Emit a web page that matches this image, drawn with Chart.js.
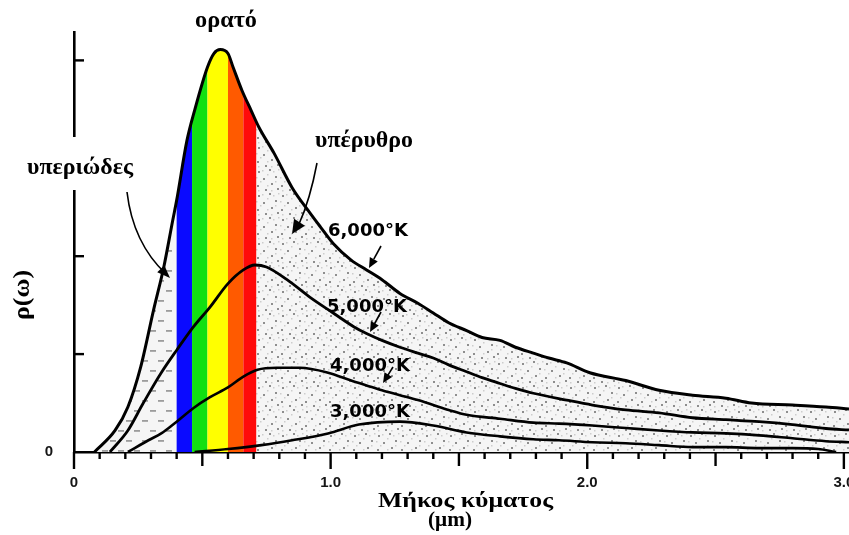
<!DOCTYPE html>
<html><head><meta charset="utf-8">
<script src="https://cdn.jsdelivr.net/npm/chart.js@4/dist/chart.umd.min.js"></script>
<style>html,body{margin:0;padding:0;background:#fff}canvas{display:block}</style>
</head><body>
<canvas id="c" width="849" height="535"></canvas>
<script>
// ---- data ----
const wl6000  = [0.08,0.16,0.21,0.26,0.31,0.35,0.385,0.40,0.44,0.47,0.52,0.545,0.57,0.60,0.62,0.655,0.69,0.72,0.78,0.85,0.92,0.96,1.01,1.08,1.14,1.20,1.27,1.34,1.40,1.46,1.53,1.59,1.66,1.72,1.79,1.85,1.92,2.01,2.15,2.28,2.41,2.54,2.64,2.80,2.93,3.02];
const rho6000 = [0,0.22,0.46,0.87,1.45,1.89,2.37,2.57,3.18,3.49,3.93,4.07,4.11,4.07,3.93,3.69,3.49,3.32,3.05,2.70,2.44,2.30,2.13,1.96,1.86,1.76,1.62,1.52,1.42,1.32,1.24,1.17,1.14,1.07,1.01,0.96,0.91,0.81,0.73,0.63,0.58,0.55,0.50,0.48,0.46,0.44];
const wl5000  = [0.14,0.21,0.27,0.34,0.40,0.466,0.53,0.60,0.66,0.705,0.75,0.83,0.92,1.01,1.09,1.14,1.20,1.27,1.34,1.40,1.46,1.53,1.59,1.66,1.72,1.79,1.92,2.02,2.15,2.28,2.41,2.54,2.67,2.80,2.93,3.02];
const rho5000 = [0,0.22,0.50,0.81,1.04,1.28,1.48,1.72,1.86,1.91,1.89,1.76,1.58,1.42,1.28,1.21,1.14,1.07,1.01,0.96,0.89,0.82,0.76,0.70,0.65,0.60,0.53,0.48,0.43,0.40,0.35,0.33,0.31,0.28,0.24,0.225];
const wl4000  = [0.21,0.29,0.34,0.40,0.466,0.53,0.60,0.66,0.715,0.79,0.88,0.99,1.08,1.14,1.20,1.27,1.34,1.40,1.46,1.53,1.66,1.79,1.89,2.02,2.15,2.28,2.41,2.54,2.67,2.80,2.93,3.02];
const rho4000 = [0,0.12,0.19,0.31,0.45,0.56,0.66,0.77,0.84,0.86,0.86,0.81,0.73,0.68,0.63,0.58,0.53,0.48,0.43,0.38,0.34,0.30,0.29,0.27,0.245,0.22,0.20,0.19,0.17,0.14,0.11,0.10];
const wl3000  = [0.47,0.60,0.73,0.85,0.99,1.11,1.27,1.40,1.53,1.66,1.79,1.89,2.02,2.15,2.28,2.41,2.54,2.67,2.80,2.90,2.97];
const rho3000 = [0,0.03,0.07,0.12,0.19,0.28,0.31,0.27,0.20,0.16,0.13,0.12,0.10,0.09,0.07,0.05,0.05,0.04,0.04,0.03,0];

const seriesLabels = ['6,000°K','5,000°K','4,000°K','3,000°K'];
const bandEdges  = [0.40,0.46,0.52,0.60,0.66,0.71];
const bandColors = ['#0a0aff','#12e012','#ffff00','#ff5a00','#ff0a0a'];
const xTickValues = [0,1,2,3];
const xTickLabels = ['0','1.0','2.0','3.0'];
const yTickValues = [0];
const yTickLabels = ['0'];
const yMarkValues = [1,2,3,4];
const xTitle = ['Μήκος κύματος','(μm)'];
const yTitle = 'ρ(ω)';
const regionLabels = ['ορατό','υπεριώδες','υπέρυθρο'];

const pts = (xs, ys) => xs.map((x, i) => ({x, y: ys[i]}));

// ---- fill texture (stipple + dashes + visible bands) ----
let patCache = null;
function fillPattern(chart){
  const ca = chart.chartArea;
  const key = ca.left+','+ca.right+','+ca.top+','+ca.bottom;
  if (patCache && patCache.key === key) return patCache.pat;
  const x = chart.scales.x;
  const c = document.createElement('canvas');
  c.width = chart.width; c.height = chart.height;
  const g = c.getContext('2d');
  g.fillStyle = '#f5f5f5'; g.fillRect(0,0,c.width,c.height);
  const uvEnd = x.getPixelForValue(bandEdges[0]);
  const irStart = x.getPixelForValue(bandEdges[bandEdges.length-1]);
  const darkDots = [[2,3],[13,1],[19,8],[7,10],[15,15],[1,17],[9,21],[21,20]];
  const lightDots = [[6,2],[17,3],[0,9],[11,6],[4,13],[19,13],[11,17],[15,22],[2,22],[22,1]];
  for (let ty = 0; ty < c.height; ty += 24){
    for (let tx = Math.floor(irStart); tx < c.width; tx += 24){
      g.fillStyle = '#8e8e8e';
      darkDots.forEach(([a,b]) => g.fillRect(tx+a, ty+b, 2, 2));
      g.fillStyle = '#cdcdcd';
      lightDots.forEach(([a,b]) => g.fillRect(tx+a, ty+b, 1.5, 1.5));
    }
  }
  // UV dashes
  g.fillStyle = '#9c9c9c';
  for (let ty = 0, r = 0; ty < c.height; ty += 10, r++){
    for (let tx = (r % 2 ? 6 : 14); tx < uvEnd - 4; tx += 16){
      g.fillRect(tx, ty, 6, 1.8);
    }
  }
  // visible bands
  for (let i = 0; i < bandColors.length; i++){
    const a = x.getPixelForValue(bandEdges[i]), b = x.getPixelForValue(bandEdges[i+1]);
    g.fillStyle = bandColors[i];
    g.fillRect(a, 0, b - a, c.height);
  }
  const pat = chart.ctx.createPattern(c, 'no-repeat');
  patCache = {key, pat};
  return pat;
}

// ---- annotations plugin ----
function arrowHead(ctx, fx, fy, tx, ty, len, wid){
  const ang = Math.atan2(ty - fy, tx - fx);
  ctx.beginPath();
  ctx.moveTo(tx, ty);
  ctx.lineTo(tx - len*Math.cos(ang) + wid*Math.sin(ang), ty - len*Math.sin(ang) - wid*Math.cos(ang));
  ctx.lineTo(tx - len*Math.cos(ang) - wid*Math.sin(ang), ty - len*Math.sin(ang) + wid*Math.cos(ang));
  ctx.closePath(); ctx.fill();
}
// text drawn at a given font size and stretched horizontally to a target width
function fitText(ctx, text, left, baseline, width, size){
  ctx.font = 'bold ' + size + 'px "Liberation Serif"';
  const w = ctx.measureText(text).width;
  ctx.save();
  ctx.translate(left, baseline);
  ctx.scale(width / w, 1);
  ctx.textAlign = 'left'; ctx.textBaseline = 'alphabetic';
  ctx.fillText(text, 0, 0);
  ctx.restore();
}
const annot = {
  id: 'annot',
  afterDraw(chart){
    const {ctx, scales:{x, y}} = chart;
    ctx.save();
    ctx.fillStyle = '#000'; ctx.strokeStyle = '#000';
    // x tick marks every 0.1
    ctx.lineWidth = 2.4;
    const y0 = y.getPixelForValue(0);
    for (let k = 0; k <= 30; k++){
      const px = x.getPixelForValue(k/10);
      const len = (k % 10 === 0) ? 17 : (k % 5 === 0 ? 14 : 7);
      ctx.beginPath(); ctx.moveTo(px, y0); ctx.lineTo(px, y0 + len); ctx.stroke();
    }
    // y inward tick marks
    const xl = x.getPixelForValue(0);
    yMarkValues.forEach(v => {
      const py = y.getPixelForValue(v);
      ctx.beginPath(); ctx.moveTo(xl, py); ctx.lineTo(xl + 10, py); ctx.stroke();
    });
    // gap in y axis behind the UV label
    ctx.fillStyle = '#fff'; ctx.fillRect(64, 137, 26, 53);
    ctx.fillStyle = '#000';
    // region labels
    fitText(ctx, regionLabels[0], 195, 27, 62, 23);
    fitText(ctx, regionLabels[1], 27, 174, 106, 23);
    fitText(ctx, regionLabels[2], 315, 147, 98, 23);
    // axis titles
    fitText(ctx, xTitle[0], 378, 507, 175, 20);
    fitText(ctx, xTitle[1], 428, 526, 44, 20);
    ctx.save(); ctx.translate(29, 320); ctx.rotate(-Math.PI/2);
    fitText(ctx, yTitle, 0, 0, 50, 23);
    ctx.restore();
    // curve labels
    ctx.font = 'bold 18px "DejaVu Sans"';
    ctx.textAlign = 'left'; ctx.textBaseline = 'alphabetic';
    const lp = [[328,236],[327,312],[330,371],[330,417]];
    seriesLabels.forEach((t, i) => ctx.fillText(t, lp[i][0], lp[i][1]));
    // arrows
    ctx.lineWidth = 1.6;
    ctx.beginPath(); ctx.moveTo(127,192); ctx.quadraticCurveTo(133,243,166,274); ctx.stroke();
    arrowHead(ctx, 150, 258, 170, 278, 13, 5);
    ctx.beginPath(); ctx.moveTo(317,163); ctx.quadraticCurveTo(310,200,299,224); ctx.stroke();
    arrowHead(ctx, 306, 212, 292, 234, 14, 6.5);
    [[381,246,369,268],[381,312,370,332],[393,367,383,383]].forEach(([a,b,c2,d]) => {
      ctx.beginPath(); ctx.moveTo(a,b); ctx.lineTo(c2 + (a-c2)*0.4, d + (b-d)*0.4); ctx.stroke();
      arrowHead(ctx, a, b, c2, d, 10, 4.5);
    });
    ctx.restore();
  }
};

Chart.defaults.font.family = '"Liberation Sans", Arial, sans-serif';
const lineBase = {borderColor:'#000', pointRadius:0, cubicInterpolationMode:'monotone', fill:false};

new Chart(document.getElementById('c'), {
  type: 'line',
  data: {
    datasets: [
      Object.assign({}, lineBase, {label: seriesLabels[0], data: pts(wl6000, rho6000), borderWidth: 3,
        fill: 'origin',
        backgroundColor: (ctx) => ctx.chart.chartArea ? fillPattern(ctx.chart) : 'rgba(0,0,0,0)'}),
      Object.assign({}, lineBase, {label: seriesLabels[1], data: pts(wl5000, rho5000), borderWidth: 2.8}),
      Object.assign({}, lineBase, {label: seriesLabels[2], data: pts(wl4000, rho4000), borderWidth: 2.6}),
      Object.assign({}, lineBase, {label: seriesLabels[3], data: pts(wl3000, rho3000), borderWidth: 2.6})
    ]
  },
  options: {
    responsive: false,
    animation: false,
    devicePixelRatio: 1,
    layout: {padding: {top: 32, left: 0, right: 0, bottom: 0}},
    plugins: {
      legend: {display: false},
      tooltip: {enabled: false},
      filler: {drawTime: 'beforeDatasetsDraw'}
    },
    scales: {
      x: {
        type: 'linear', min: 0, max: 3.02,
        afterBuildTicks: (s) => { s.ticks = xTickValues.map(v => ({value: v})); },
        afterFit: (s) => { s.height = 83; s.paddingLeft = 0; s.paddingRight = 0; },
        grid: {display: false, drawTicks: false, tickLength: 0},
        border: {display: true, color: '#000', width: 2.6},
        ticks: {
          autoSkip: false, maxRotation: 0, padding: 22,
          color: '#151515', font: {size: 15, weight: 'bold'},
          callback: (v, i) => xTickLabels[i]
        },
        title: {display: false, text: xTitle}
      },
      y: {
        type: 'linear', min: 0, max: 4.29,
        afterBuildTicks: (s) => { s.ticks = yTickValues.map(v => ({value: v})); },
        afterFit: (s) => { s.width = 74; },
        grid: {display: false, drawTicks: false, tickLength: 0},
        border: {display: true, color: '#000', width: 2.6},
        ticks: {
          padding: 21, color: '#151515', font: {size: 15, weight: 'bold'},
          callback: (v, i) => yTickLabels[i]
        },
        title: {display: false, text: yTitle}
      }
    }
  },
  plugins: [annot]
});
</script>
</body></html>
